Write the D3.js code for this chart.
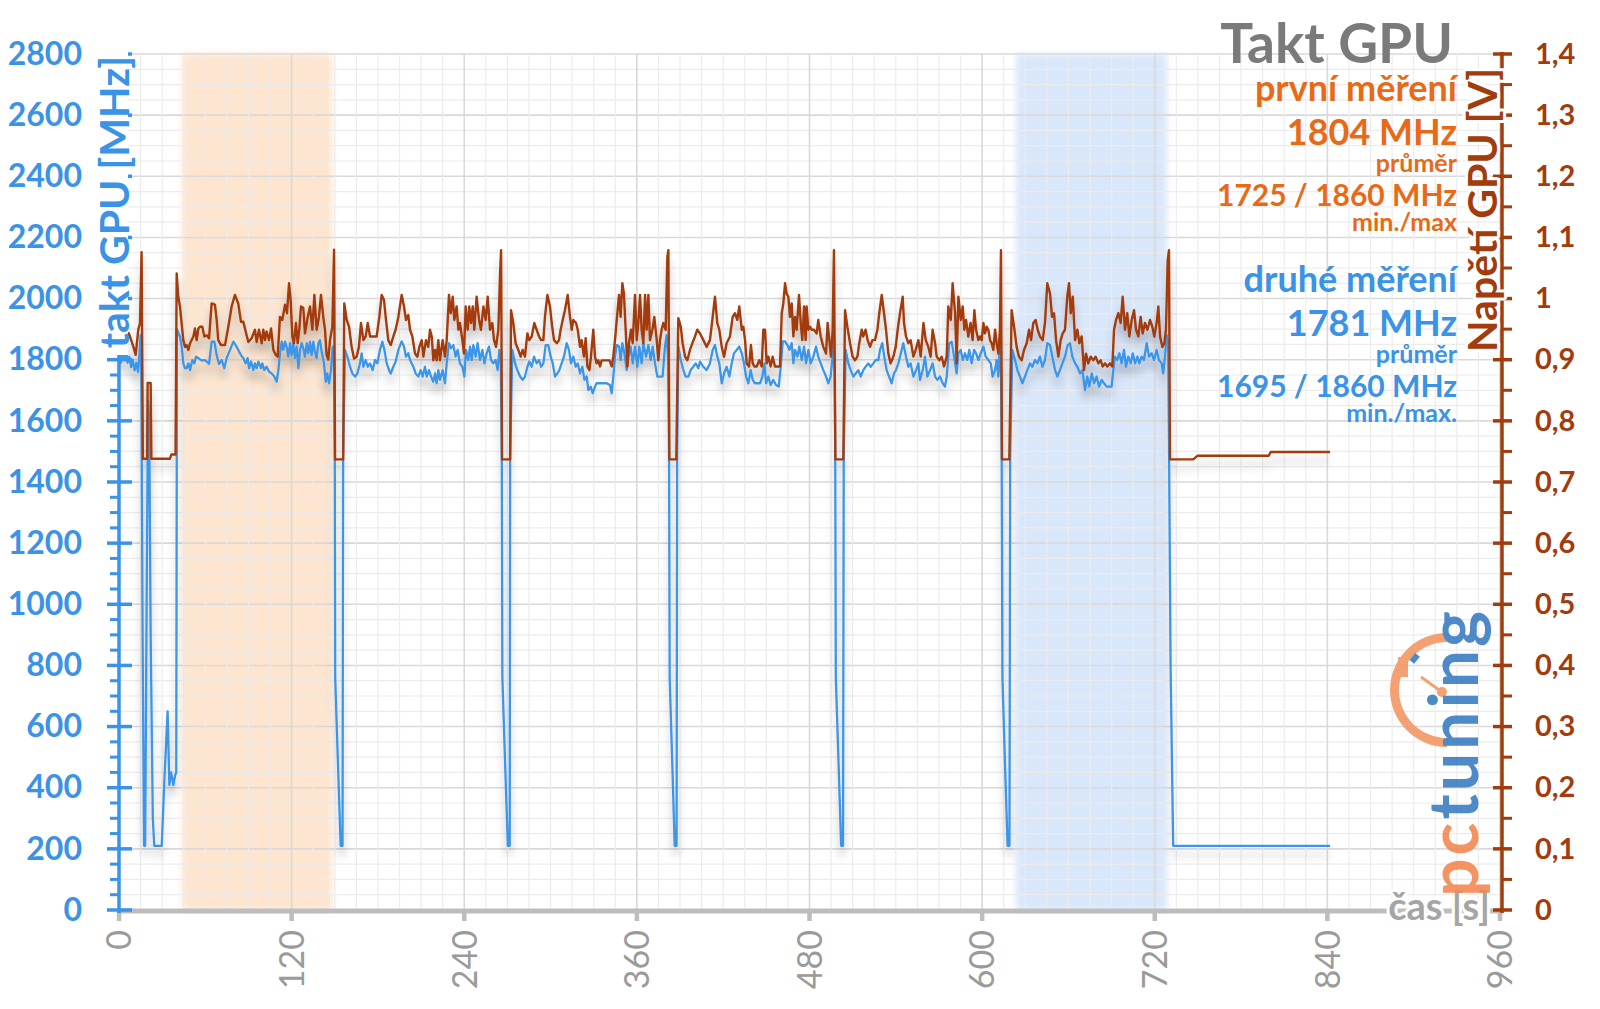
<!DOCTYPE html>
<html><head><meta charset="utf-8">
<script src="https://cdn.jsdelivr.net/npm/d3@7"></script>
<style>
html,body{margin:0;padding:0;background:#fff;}
svg{display:block;font-family:Lato,"Open Sans",sans-serif;}
</style></head>
<body>
<svg id="c" width="1600" height="1009"></svg>
<script>
// ---------- DATA ----------
const xTicks = [0,120,240,360,480,600,720,840,960];
const leftTicks = [0,200,400,600,800,1000,1200,1400,1600,1800,2000,2200,2400,2600,2800];
const rightTicks = [0,0.1,0.2,0.3,0.4,0.5,0.6,0.7,0.8,0.9,1.0,1.1,1.2,1.3,1.4];
const bandOrange = [44, 148];
const bandBlue = [623.5, 728.5];

// GPU voltage [V] (first measurement)
const voltT = [6.5,7.6,10.0,11.6,13.4,14.6,15.7,16.6,19.6,19.9,22.0,22.5,35.4,36.4,39.3,40.1,
41.2,42.4,44.7,45.9,47.0,48.2,49.4,51.7,52.8,54.0,55.2,56.3,57.9,59.3,60.9,62.6,64.4,66.7,67.9,69.0,70.9,73.7,76.0,78.3,80.6,82.9,84.8,86.4,88.7,89.9,92.2,94.5,95.7,97.3,99.2,100.3,101.5,102.6,104.3,105.7,107.3,108.9,110.3,111.9,113.5,115.4,116.8,118.2,119.3,120.5,121.6,123.0,124.2,125.4,126.5,128.1,129.3,131.2,132.8,134.4,135.8,137.4,139.0,140.4,142.0,143.2,144.3,145.5,146.7,148.3,149.5,
150.2,155.8,
156.6,158.3,159.9,161.7,163.4,165.2,166.8,168.2,169.9,171.5,172.9,174.5,176.8,179.1,181.0,182.6,184.2,185.6,187.2,188.9,190.7,192.3,194.2,196.5,198.1,199.5,201.1,202.3,203.9,205.8,207.4,208.8,210.4,211.6,213.4,215.0,216.2,217.4,218.5,219.7,220.8,222.0,223.1,225.0,226.6,227.8,229.4,230.6,232.0,233.1,234.7,235.9,237.0,238.7,239.8,241.0,242.4,243.5,244.7,245.9,247.0,248.6,250.3,251.6,253.3,254.9,256.3,257.9,259.5,260.7,262.1,263.7,264.9,265.6,
266.3,271.9,
272.5,274.1,275.7,277.6,279.2,280.6,282.2,283.9,285.2,286.9,288.7,290.3,292.0,293.4,295.0,296.1,297.8,299.6,300.8,302.4,304.3,305.9,307.0,308.9,310.0,311.9,313.5,314.7,315.8,317.7,318.9,320.5,321.6,323.2,324.4,325.6,327.0,328.1,329.7,330.9,332.0,333.2,334.4,335.5,337.1,339.0,340.9,342.5,343.6,344.8,346.0,347.6,348.7,349.9,351.0,352.2,353.4,354.5,355.9,357.1,358.7,359.9,361.0,362.2,363.3,364.5,365.7,366.8,368.0,369.1,370.8,372.1,373.8,374.9,376.1,377.2,378.4,380.0,381.2,381.9,
382.6,387.4,
388.8,390.5,391.8,393.5,395.1,396.9,398.6,400.4,402.0,403.9,406.2,408.5,410.8,412.7,414.3,415.9,417.3,419.0,420.6,422.4,424.7,426.6,428.2,429.8,431.2,432.9,434.0,435.2,436.3,438.0,439.3,440.5,441.7,443.3,445.1,446.8,447.9,449.1,450.2,451.4,453.0,454.4,456.0,457.6,459.5,460.7,461.8,463.0,464.1,465.3,466.4,467.6,468.8,469.9,471.1,472.7,473.9,475.0,476.2,477.3,478.0,479.2,480.4,481.5,483.1,485.0,486.1,487.8,489.6,491.5,492.6,493.8,494.9,496.1,497.0,
498.0,503.5,
504.7,506.3,508.2,510.0,511.6,513.3,514.6,516.3,517.4,519.0,520.4,522.1,523.7,525.5,527.2,528.5,530.2,531.8,533.2,534.8,536.4,538.3,539.9,541.3,542.9,544.8,545.7,547.1,548.7,550.3,552.2,553.8,555.7,557.3,559.2,560.8,562.6,564.2,565.6,567.3,568.4,570.3,571.9,573.5,575.4,576.5,578.2,579.5,581.2,582.3,583.5,585.1,586.5,587.6,588.8,590.4,592.0,593.4,594.6,595.8,597.4,598.5,599.7,600.9,602.0,603.2,604.3,605.5,606.6,607.8,609.0,610.1,611.3,612.4,613.1,
613.8,618.9,
620.5,622.2,624.0,625.6,627.5,629.1,631.0,632.6,634.0,635.6,637.2,638.6,640.2,642.1,643.7,645.3,647.2,648.6,650.0,651.4,653.0,654.6,656.0,657.6,659.2,660.4,661.6,663.0,664.6,666.2,667.6,669.2,670.8,672.2,673.8,675.5,677.3,678.9,680.8,682.4,683.8,685.4,687.0,688.9,690.5,691.7,693.1,694.7,696.3,697.7,699.3,700.9,702.3,704.0,705.6,707.0,708.6,710.2,711.6,713.2,714.9,716.7,718.3,719.7,721.3,722.5,723.7,725.3,726.7,727.8,729.0,729.9,
730.6,746.8,749.8,799.2,800.6,841.9];
const voltV = [0.945,0.938,0.921,0.908,0.949,0.960,1.076,0.738,0.738,0.862,0.862,0.738,0.738,0.745,0.745,1.041,
1.003,0.987,0.932,0.921,0.924,0.916,0.927,0.938,0.951,0.932,0.951,0.954,0.954,0.938,0.940,0.935,0.992,0.990,0.965,0.932,0.924,0.924,0.954,0.987,1.006,0.992,0.962,0.962,0.940,0.929,0.935,0.949,0.929,0.949,0.927,0.949,0.932,0.946,0.932,0.951,0.916,0.908,0.905,0.970,0.965,0.990,0.976,1.025,0.998,0.938,0.927,0.960,0.927,0.951,0.987,0.985,0.943,0.970,0.987,0.949,1.006,0.949,0.970,1.006,0.970,0.949,0.908,0.900,0.932,0.954,1.080,
0.737,0.737,
0.992,0.965,0.954,0.921,0.902,0.905,0.921,0.960,0.932,0.938,0.960,0.938,0.938,0.938,0.970,1.006,0.998,0.965,0.932,0.924,0.938,0.949,0.970,1.006,0.987,0.965,0.973,0.949,0.938,0.910,0.905,0.921,0.932,0.905,0.932,0.921,0.949,0.938,0.899,0.916,0.899,0.932,0.899,0.932,0.905,0.932,1.006,0.976,1.003,0.965,0.987,0.949,0.960,0.932,0.910,0.987,0.949,0.987,0.960,0.987,0.949,1.003,0.965,0.949,0.987,0.965,1.003,0.949,0.960,0.932,0.921,0.949,1.041,1.079,
0.737,0.737,
0.981,0.960,0.927,0.916,0.905,0.916,0.905,0.943,0.932,0.938,0.960,0.949,0.938,0.932,0.932,0.970,1.006,0.987,0.960,0.932,0.927,0.932,0.949,0.970,0.981,1.006,0.970,0.949,0.965,0.960,0.949,0.921,0.932,0.905,0.935,0.889,0.883,0.905,0.949,0.905,0.894,0.899,0.889,0.899,0.899,0.899,0.899,0.889,0.905,0.932,0.965,1.006,0.970,1.025,1.008,0.949,0.889,0.927,0.949,0.927,1.006,0.932,0.960,1.006,0.949,0.927,1.006,0.949,1.006,0.932,0.949,0.970,0.932,0.899,0.932,0.949,0.960,0.949,1.068,1.079,
0.737,0.737,
0.968,0.954,0.927,0.905,0.899,0.916,0.927,0.938,0.949,0.943,0.932,0.921,0.932,0.970,1.003,0.960,0.949,0.921,0.905,0.927,0.938,0.970,0.976,0.965,0.987,0.949,0.954,0.932,0.894,0.889,0.924,0.894,0.889,0.889,0.899,0.889,0.949,0.949,0.894,0.905,0.889,0.905,0.889,0.889,0.889,0.976,0.992,1.025,1.008,1.003,0.970,0.992,0.938,0.970,0.949,1.006,0.960,0.932,0.987,0.932,0.987,0.949,0.954,0.949,0.949,0.943,0.965,0.938,0.921,0.910,0.960,0.932,0.905,0.949,1.079,
0.737,0.737,
0.981,0.954,0.927,0.905,0.899,0.905,0.927,0.949,0.938,0.949,0.932,0.921,0.932,0.932,0.949,0.976,1.006,0.976,0.949,0.910,0.894,0.905,0.921,0.949,0.976,1.003,0.960,0.938,0.927,0.932,0.905,0.916,0.932,0.905,0.960,0.932,0.921,0.905,0.949,0.927,0.905,0.899,0.905,0.889,0.905,0.987,0.965,1.025,0.976,0.894,1.003,0.965,0.987,0.949,0.965,0.938,0.960,0.932,0.981,0.949,0.932,0.938,0.932,0.960,0.943,0.954,0.949,0.932,0.927,0.916,0.949,0.927,0.910,0.949,1.079,
0.737,0.737,
0.981,0.954,0.921,0.905,0.899,0.916,0.927,0.949,0.932,0.960,0.965,0.949,0.938,0.932,0.960,1.025,1.008,0.970,0.976,0.932,0.905,0.932,0.943,0.949,1.003,1.025,0.976,1.003,0.932,0.949,0.927,0.938,0.883,0.910,0.894,0.905,0.899,0.905,0.894,0.899,0.889,0.894,0.889,0.894,0.889,0.949,0.965,0.976,0.960,1.003,0.949,0.976,0.938,0.965,0.981,0.949,0.938,0.970,0.943,0.960,0.949,0.965,0.954,0.938,0.960,0.987,0.938,0.921,0.927,0.949,1.063,1.079,
0.737,0.737,0.743,0.743,0.749,0.749];

// GPU clock [MHz] (second measurement)
const clockT = [0,1.2,2.4,3.6,4.8,6.0,7.2,8.4,9.6,10.8,12.0,13.2,14.2,15.0,15.6,16.4,17.4,18.2,19.2,20.2,21.0,22.0,23.5,24.5,29.7,31.5,33.8,35.0,36.2,37.8,39.0,39.8,40.3,
42.4,43.6,44.7,45.9,47.0,48.2,49.4,51.0,52.4,53.5,55.2,56.3,57.9,59.3,60.9,62.6,64.4,66.3,67.9,69.5,71.4,73.2,74.8,77.2,79.5,81.1,82.9,84.8,86.4,88.0,89.4,90.4,91.8,93.4,94.5,95.7,96.9,98.7,99.6,101.0,102.6,104.3,106.1,108.0,109.6,110.8,111.9,113.1,114.2,115.4,116.5,117.7,118.9,120.0,121.2,122.3,123.5,124.7,125.8,127.0,128.1,129.3,130.5,131.6,132.8,133.9,135.1,136.2,137.4,138.6,139.7,140.9,142.5,143.7,144.8,146.0,147.4,148.5,
149.4,150.0,150.3,152.2,154.1,155.4,155.8,
157.1,158.7,160.6,162.2,164.1,165.7,167.5,168.7,169.9,171.5,172.9,174.5,176.3,178.0,179.6,181.4,183.1,184.5,186.1,187.7,188.9,190.7,192.3,194.2,196.5,198.1,199.5,201.1,202.3,204.6,206.2,208.1,209.7,211.1,212.7,213.9,215.5,216.9,218.5,219.7,220.8,222.0,223.1,225.0,226.6,227.8,229.4,230.8,232.4,234.0,235.4,237.0,238.7,240.1,241.2,242.8,244.0,245.2,246.3,247.9,249.3,250.9,252.6,254.0,255.6,257.2,258.6,260.2,261.8,263.2,264.4,
265.4,266.1,266.5,268.4,270.3,271.6,271.9,
273.4,275.3,276.9,278.8,280.6,282.2,283.9,285.2,286.9,288.5,290.3,292.0,293.4,295.0,296.6,298.4,300.1,301.5,303.1,304.7,306.1,307.7,309.3,311.2,312.8,314.2,315.8,317.5,318.9,320.5,322.1,323.5,325.1,326.3,327.9,329.3,330.9,332.0,334.4,336.7,339.0,341.3,342.5,343.6,344.8,346.0,347.6,348.7,349.9,351.3,352.9,354.1,355.7,357.1,358.7,360.3,361.7,363.3,364.5,366.4,368.0,369.6,371.0,372.6,374.2,376.1,377.9,379.5,380.7,
381.7,382.4,382.8,384.6,386.3,387.6,388.0,
388.8,390.5,392.3,393.9,395.8,397.4,399.2,400.9,402.7,403.9,406.2,408.5,410.8,412.7,414.3,415.9,417.3,419.0,420.6,422.4,424.3,425.9,427.5,429.4,431.2,432.9,434.5,435.9,437.5,439.1,440.5,442.1,443.7,445.6,447.2,448.6,449.8,451.4,453.0,454.9,456.7,458.6,460.0,461.4,463.0,464.6,466.0,467.6,468.8,469.9,471.6,472.9,474.6,476.2,477.6,479.2,480.8,482.7,484.5,486.1,487.8,489.6,491.5,493.1,494.7,496.1,497.0,
497.6,497.9,498.3,500.2,502.0,503.3,503.8,
505.1,507.0,508.6,510.5,512.1,513.9,515.6,517.4,519.0,520.9,522.5,524.4,526.0,527.9,529.0,530.6,532.0,533.6,535.3,537.1,538.7,540.1,541.8,542.9,545.2,547.1,548.7,550.3,552.2,554.1,555.7,556.8,558.7,560.3,561.9,563.8,565.6,567.3,568.9,570.7,572.6,574.2,575.4,577.2,578.8,580.5,582.3,583.5,585.1,586.5,588.1,589.7,591.1,592.7,594.4,595.8,597.4,599.0,600.9,602.5,604.3,606.0,607.3,609.0,610.1,611.3,612.4,
613.2,613.6,614.1,615.9,617.7,619.0,619.5,
621.0,622.9,624.5,626.3,628.0,629.8,631.4,633.3,634.9,636.8,638.4,640.2,641.9,643.7,645.3,647.2,648.8,650.7,652.3,654.1,655.8,657.6,659.5,661.1,662.7,664.6,666.2,668.1,669.7,671.5,673.1,674.5,676.2,677.8,679.6,681.3,683.1,684.7,686.6,688.4,690.0,691.2,692.4,694.0,695.4,697.0,698.6,700.0,701.6,703.3,704.7,706.3,707.9,709.3,710.9,712.5,714.4,716.0,717.9,719.5,721.3,722.9,724.8,725.9,727.1,728.3,
729.3,730.0,731.0,732.8,841.9];
const clockMHz = [1820,1790,1830,1800,1840,1790,1810,1775,1800,1765,1790,1760,1820,1880,1700,900,210,210,1000,1665,1600,900,300,210,210,420,650,409,450,409,440,450,1900,
1875,1843,1788,1772,1772,1788,1766,1799,1788,1810,1805,1801,1797,1799,1794,1786,1859,1859,1815,1786,1799,1772,1805,1832,1859,1848,1832,1815,1805,1788,1805,1772,1794,1766,1788,1772,1794,1772,1788,1766,1777,1761,1755,1745,1728,1766,1821,1859,1832,1859,1843,1810,1854,1815,1854,1805,1843,1772,1832,1854,1837,1810,1854,1821,1859,1815,1859,1826,1805,1854,1864,1826,1788,1728,1755,1723,1766,1843,
1800,1470,760,480,210,210,1480,
1832,1810,1777,1755,1745,1755,1788,1821,1777,1799,1777,1788,1766,1799,1788,1832,1859,1832,1788,1766,1755,1777,1794,1832,1860,1843,1810,1821,1799,1777,1755,1745,1766,1745,1777,1745,1766,1745,1728,1755,1723,1766,1734,1766,1723,1788,1854,1837,1848,1810,1832,1788,1777,1745,1832,1799,1843,1799,1848,1810,1854,1799,1832,1788,1821,1843,1799,1788,1799,1766,1832,
1790,1470,760,480,210,210,1480,
1832,1788,1766,1745,1734,1745,1777,1794,1777,1810,1788,1799,1777,1788,1848,1848,1810,1788,1745,1755,1766,1788,1810,1854,1832,1788,1810,1777,1788,1755,1777,1734,1745,1701,1712,1690,1712,1723,1723,1723,1723,1717,1690,1745,1810,1848,1843,1799,1854,1821,1766,1810,1843,1788,1843,1777,1843,1788,1854,1810,1848,1799,1843,1788,1745,1745,1745,1843,1880,
1800,1470,760,480,210,210,1480,
1843,1799,1766,1745,1745,1766,1777,1788,1772,1794,1777,1766,1788,1832,1848,1810,1788,1723,1755,1777,1745,1788,1821,1832,1843,1821,1788,1745,1723,1766,1734,1723,1723,1723,1745,1788,1723,1745,1717,1734,1717,1712,1777,1860,1860,1848,1832,1854,1788,1832,1810,1843,1799,1843,1788,1832,1788,1810,1843,1810,1788,1766,1745,1723,1745,1810,1880,
1700,1470,760,480,210,210,1480,
1832,1788,1766,1745,1755,1766,1745,1766,1777,1788,1777,1788,1799,1799,1832,1854,1810,1766,1745,1723,1755,1766,1788,1810,1854,1810,1777,1788,1745,1766,1788,1734,1766,1810,1745,1766,1788,1745,1734,1745,1723,1712,1745,1854,1859,1810,1755,1821,1832,1799,1821,1799,1832,1788,1832,1821,1799,1821,1843,1810,1799,1788,1745,1766,1799,1745,1870,
1750,1470,760,480,210,210,1480,
1832,1799,1766,1745,1723,1745,1766,1788,1777,1799,1788,1810,1777,1799,1854,1848,1810,1766,1745,1766,1788,1810,1848,1854,1810,1788,1777,1755,1766,1701,1745,1712,1755,1723,1745,1712,1734,1723,1712,1712,1712,1766,1810,1799,1821,1788,1832,1777,1810,1788,1821,1788,1810,1788,1810,1799,1854,1810,1821,1799,1832,1799,1788,1755,1810,1880,
1850,1470,800,210,210];

const statsFirst = {title:"první měření", avg:"1804 MHz", avgLbl:"průměr", mm:"1725 / 1860 MHz", mmLbl:"min./max"};
const statsSecond = {title:"druhé měření", avg:"1781 MHz", avgLbl:"průměr", mm:"1695 / 1860 MHz", mmLbl:"min./max."};

// ---------- CHART ----------
const BLUE = "#3a93e6", BROWN = "#a23c0c", ORANGE = "#e86a17", GRAY = "#7a7a7a";
const svg = d3.select("#c");
const x = d3.scaleLinear().domain([0, 960]).range([119, 1500]);
const yL = d3.scaleLinear().domain([0, 2800]).range([910, 54]);
const yR = d3.scaleLinear().domain([0, 1.4]).range([910, 54]);

const defs = svg.append("defs");
const soft = defs.append("filter").attr("id","soft").attr("x","-20%").attr("width","140%");
soft.append("feGaussianBlur").attr("stdDeviation", 3);
const sh = defs.append("filter").attr("id","shadow").attr("x","-5%").attr("y","-20%").attr("width","110%").attr("height","150%");
sh.append("feGaussianBlur").attr("in","SourceAlpha").attr("stdDeviation",5).attr("result","b");
sh.append("feOffset").attr("in","b").attr("dy",9).attr("result","o");
sh.append("feComponentTransfer").attr("in","o").attr("result","t").append("feFuncA").attr("type","linear").attr("slope",0.25);
const mg = sh.append("feMerge"); mg.append("feMergeNode").attr("in","t"); mg.append("feMergeNode").attr("in","SourceGraphic");

// bands
svg.append("rect").attr("x", x(bandOrange[0])).attr("y", yL(2800)).attr("width", x(bandOrange[1]) - x(bandOrange[0]))
  .attr("height", yL(0) - yL(2800)).attr("fill", "#fde5cf").attr("filter","url(#soft)");
svg.append("rect").attr("x", x(bandBlue[0])).attr("y", yL(2800)).attr("width", x(bandBlue[1]) - x(bandBlue[0]))
  .attr("height", yL(0) - yL(2800)).attr("fill", "#d9e7fb").attr("filter","url(#soft)");

// grid
const grid = svg.append("g").attr("fill","none");
d3.range(0, 2801, 50).forEach(v => {
  grid.append("line").attr("x1", x(0)).attr("x2", x(960)).attr("y1", yL(v)).attr("y2", yL(v))
    .attr("stroke", v % 200 === 0 ? "#d9d9d9" : "#ececec").attr("stroke-width", v % 200 === 0 ? 1.6 : 1.2);
});
d3.range(0, 961, 15).forEach(v => {
  grid.append("line").attr("y1", yL(0)).attr("y2", yL(2800)).attr("x1", x(v)).attr("x2", x(v))
    .attr("stroke", v % 120 === 0 ? "#d9d9d9" : "#ececec").attr("stroke-width", v % 120 === 0 ? 1.6 : 1.2);
});

// lines
const clockData = clockT.map((t,i)=>[t, clockMHz[i]]);
const voltData = voltT.map((t,i)=>[t, voltV[i]]);
const lines = svg.append("g").attr("filter","url(#shadow)");
lines.append("path").datum(clockData).attr("fill","none").attr("stroke","#3d95e8").attr("stroke-width",2.3)
  .attr("stroke-linejoin","round").attr("d", d3.line().x(d=>x(d[0])).y(d=>yL(d[1])));
lines.append("path").datum(voltData).attr("fill","none").attr("stroke","#a33a0b").attr("stroke-width",2.4)
  .attr("stroke-linejoin","round").attr("d", d3.line().x(d=>x(d[0])).y(d=>yR(d[1])));

// x axis
svg.append("line").attr("x1", x(0)).attr("x2", x(960)).attr("y1", yL(0)+1).attr("y2", yL(0)+1)
  .attr("stroke","#bdbdbd").attr("stroke-width",5);
const xa = svg.append("g");
xTicks.forEach(v => {
  xa.append("line").attr("x1", x(v)).attr("x2", x(v)).attr("y1", 912).attr("y2", 921).attr("stroke","#bdbdbd").attr("stroke-width",4.5);
  xa.append("text").attr("transform", `translate(${x(v)},930) rotate(-90)`).attr("dy","0.36em")
    .attr("text-anchor","end").attr("font-size",34).attr("fill","#9a9a9a").text(v);
});

// left axis
const la = svg.append("g");
la.append("line").attr("x1",119).attr("x2",119).attr("y1",yL(2800)-2).attr("y2",yL(0)+3).attr("stroke",BLUE).attr("stroke-width",3.5);
d3.range(0, 2801, 50).forEach(v => {
  const major = v % 200 === 0;
  la.append("line").attr("x1", major ? 107 : 110).attr("x2", major ? 132 : 119).attr("y1", yL(v)).attr("y2", yL(v))
    .attr("stroke", BLUE).attr("stroke-width", major ? 3.5 : 3);
});
const leftAxis = d3.axisLeft(yL).tickValues(leftTicks).tickSize(0).tickPadding(37).tickFormat(d=>d);
const lag = svg.append("g").attr("transform","translate(119,0)").call(leftAxis);
lag.select(".domain").remove();
lag.selectAll("text").attr("font-size",32).attr("font-weight","bold").attr("fill",BLUE).attr("font-family","Lato");

// right axis
const ra = svg.append("g");
ra.append("line").attr("x1",1502).attr("x2",1502).attr("y1",yR(1.4)-2).attr("y2",yR(0)+3).attr("stroke",BROWN).attr("stroke-width",3.5);
d3.range(0, 29).forEach(i => {
  const v = i * 0.05, major = i % 2 === 0;
  ra.append("line").attr("x1", major ? 1493 : 1502).attr("x2", 1512).attr("y1", yR(v)).attr("y2", yR(v))
    .attr("stroke", BROWN).attr("stroke-width", major ? 3.5 : 3);
});
const rightAxis = d3.axisRight(yR).tickValues(rightTicks).tickSize(0).tickPadding(33)
  .tickFormat(d => (Math.round(d*10)/10).toString().replace(".", ","));
const rag = svg.append("g").attr("transform","translate(1502,0)").call(rightAxis);
rag.select(".domain").remove();
rag.selectAll("text").attr("font-size",29).attr("font-weight","bold").attr("fill",BROWN).attr("font-family","Lato");

// axis titles
svg.append("rect").attr("x",95).attr("y",50).attr("width",33).attr("height",305).attr("fill","#fff");
svg.append("text").attr("transform","translate(129,56) rotate(-90)").attr("text-anchor","end")
  .attr("font-size",41).attr("font-weight","bold").attr("fill",BLUE)
  .text("takt GPU [MHz]");
svg.append("text").attr("transform","translate(1497,68) rotate(-90)").attr("text-anchor","end")
  .attr("font-size",41).attr("font-weight","bold").attr("fill",BROWN)
  .attr("stroke","#fff").attr("stroke-width",6).attr("paint-order","stroke").attr("stroke-linejoin","round")
  .text("Napětí GPU [V]");
svg.append("text").attr("x",1490).attr("y",920).attr("text-anchor","end")
  .attr("font-size",38).attr("font-weight","bold").attr("fill","#a5a5a5")
  .attr("stroke","#fff").attr("stroke-width",6).attr("paint-order","stroke").attr("stroke-linejoin","round")
  .text("čas [s]");

// logo (watermark)
const logo = svg.append("g").attr("opacity",0.92);
const arc = d3.arc().innerRadius(48).outerRadius(57).startAngle(Math.PI).endAngle(2*Math.PI);
logo.append("path").attr("transform","translate(1447,690)").attr("d", arc()).attr("fill","#f39a68");
logo.append("rect").attr("x",1398).attr("y",657).attr("width",10).attr("height",20).attr("fill","#f39a68");
logo.append("rect").attr("x",1412).attr("y",654).attr("width",6).attr("height",9).attr("fill","#3f7fc4")
  .attr("transform","rotate(40,1415,658)");
logo.append("line").attr("x1",1421).attr("y1",677).attr("x2",1442).attr("y2",692).attr("stroke","#f39a68").attr("stroke-width",3);
logo.append("circle").attr("cx",1442).attr("cy",692).attr("r",5).attr("fill","#f39a68");
const lt = logo.append("text").attr("transform","translate(1478,897) rotate(-90)")
  .attr("font-size",68).attr("font-weight","bold").attr("font-family","Lato").attr("letter-spacing",3);
lt.append("tspan").attr("fill","#f28b55").text("pc");
lt.append("tspan").attr("fill","#3f7fc4").text("tuning");

// title and stats
const RX = 1457;
svg.append("text").attr("x",1453).attr("y",63).attr("text-anchor","end").attr("font-size",55).attr("font-weight","bold").attr("fill",GRAY).text("Takt GPU");
function stats(s, col, y0) {
  const rows = [[s.title, 36, 0],[s.avg, 36, 44],[s.avgLbl, 25, 71],[s.mm, 30, 105],[s.mmLbl, 25, 130]];
  rows.forEach(r => svg.append("text").attr("x",RX).attr("y",y0 + r[2]).attr("text-anchor","end")
    .attr("font-size",r[1]).attr("font-weight","bold").attr("fill",col).text(r[0]));
}
stats(statsFirst, ORANGE, 101);
stats(statsSecond, BLUE, 292);
</script>
</body></html>
